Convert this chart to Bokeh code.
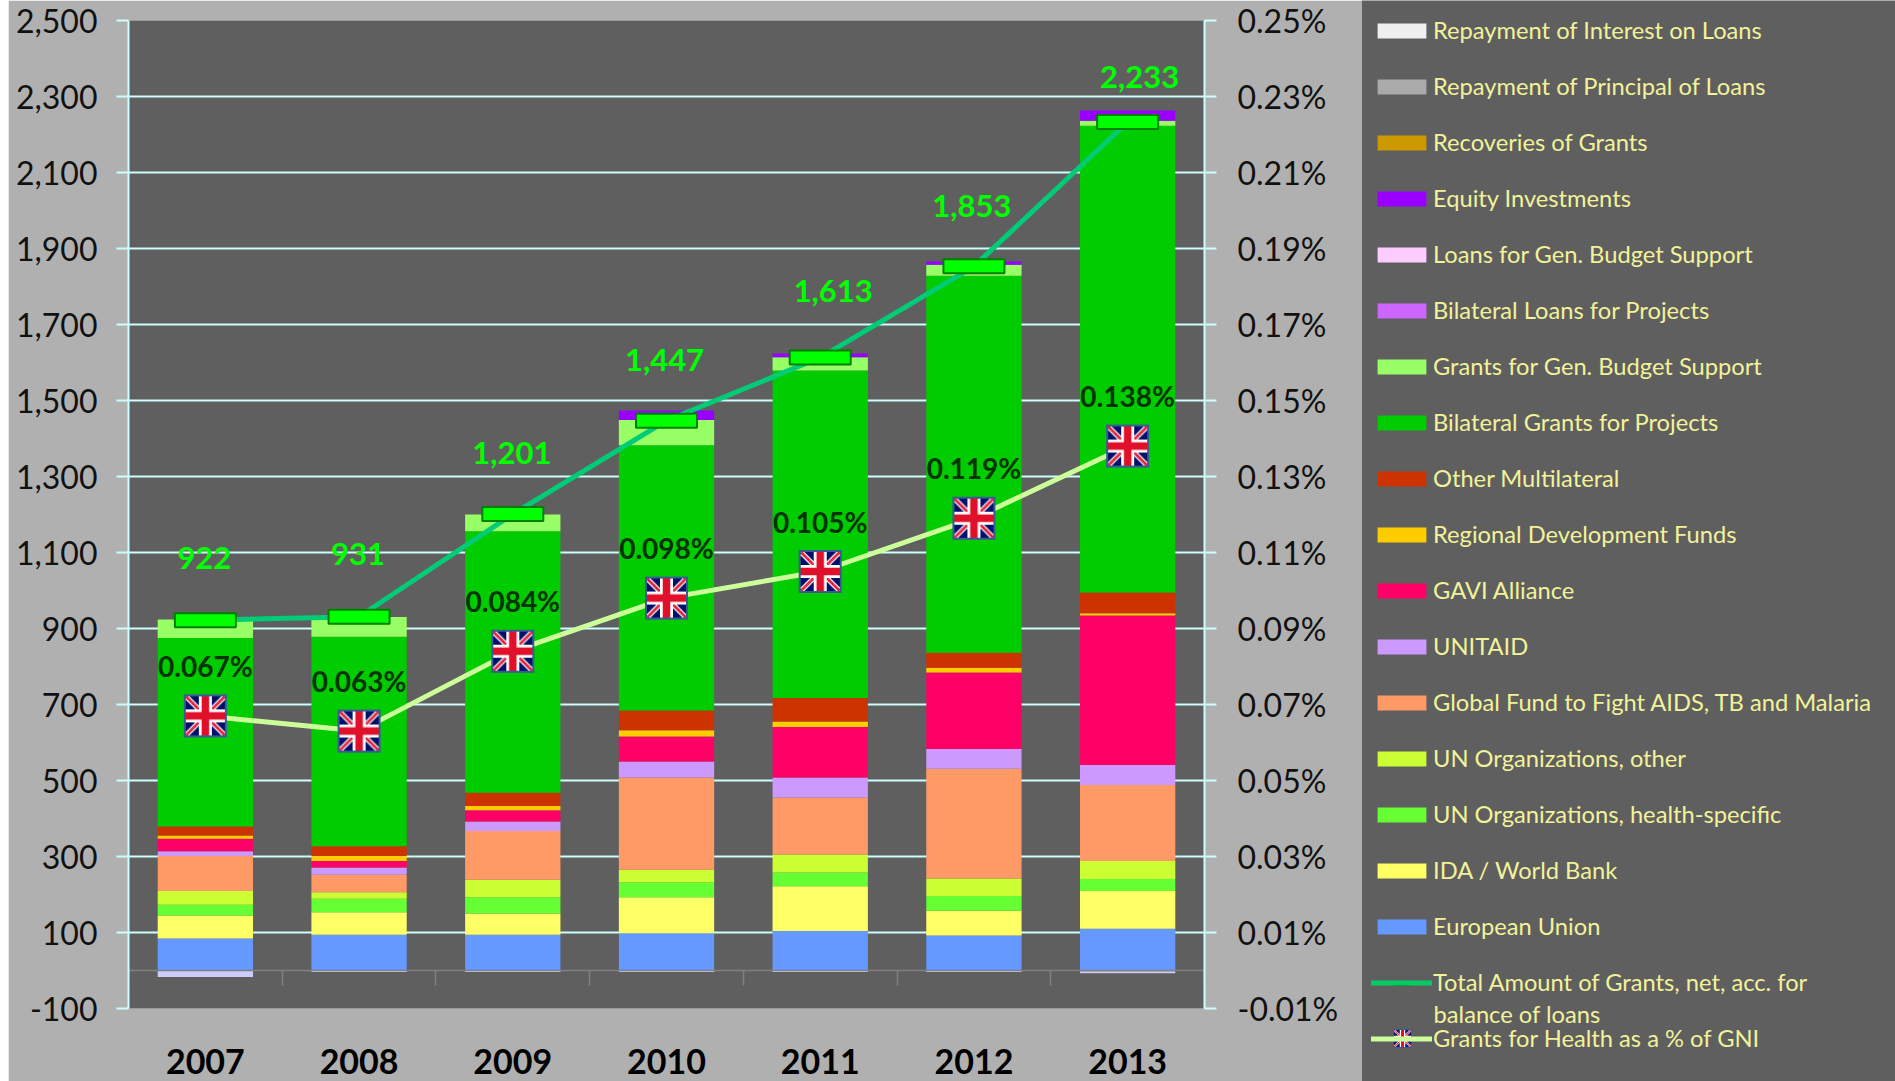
import numpy as np
from bokeh.embed import file_html
from bokeh.layouts import row
from bokeh.models import (ColumnDataSource, FixedTicker, Legend, LegendItem, LinearAxis,
                          NumeralTickFormatter, PrintfTickFormatter, Range1d)
from bokeh.plotting import figure
from bokeh.resources import INLINE
from bokeh.core.properties import value

years = ["2007", "2008", "2009", "2010", "2011", "2012", "2013"]

european_union = [84, 94, 94, 98, 104, 92, 110]
ida_world_bank = [61, 59, 56, 95, 118, 65, 99]
un_health = [28, 36, 43, 39, 36, 39, 32]
un_other = [36, 17, 46, 33, 47, 46, 47]
global_fund = [92, 46, 128, 243, 150, 289, 200]
unitaid = [13, 19, 25, 42, 53, 52, 53]
gavi = [33, 17, 30, 66, 133, 201, 393]
regional_funds = [8, 13, 11, 16, 14, 13, 6]
other_multilateral = [24, 26, 35, 52, 62, 39, 55]
bilateral_grants = [496, 551, 688, 698, 862, 992, 1228]
grants_budget_support = [49, 52, 44, 67, 35, 29, 13]
bilateral_loans = [0, 0, 0, 0, 0, 0, 0]
loans_budget_support = [0, 0, 0, 0, 0, 0, 0]
equity_investments = [0, 0, 0, 25, 10, 9, 27]

recoveries_of_grants = [0, 0, 0, 0, 0, 0, -2]
repayment_principal = [-17, -4, -4, -4, -4, -4, -5]
repayment_interest = [0, 0, 0, 0, 0, 0, 0]

total_grants = [922, 931, 1201, 1447, 1613, 1853, 2233]
gni_share = [0.067, 0.063, 0.084, 0.098, 0.105, 0.119, 0.138]
gni_labels = ["0.067%", "0.063%", "0.084%", "0.098%", "0.105%", "0.119%", "0.138%"]
total_labels = ["922", "931", "1,201", "1,447", "1,613", "1,853", "2,233"]

positive_series = [
    ("European Union", european_union, "#6699ff"),
    ("IDA / World Bank", ida_world_bank, "#ffff66"),
    ("UN Organizations, health-specific", un_health, "#66ff33"),
    ("UN Organizations, other", un_other, "#ccff33"),
    ("Global Fund to Fight AIDS, TB and Malaria", global_fund, "#ff9966"),
    ("UNITAID", unitaid, "#cc99ff"),
    ("GAVI Alliance", gavi, "#ff0066"),
    ("Regional Development Funds", regional_funds, "#ffcc00"),
    ("Other Multilateral", other_multilateral, "#cc3300"),
    ("Bilateral Grants for Projects", bilateral_grants, "#00cc00"),
    ("Grants for Gen. Budget Support", grants_budget_support, "#99ff66"),
    ("Bilateral Loans for Projects", bilateral_loans, "#cc66ff"),
    ("Loans for Gen. Budget Support", loans_budget_support, "#ffccff"),
    ("Equity Investments", equity_investments, "#9900ff"),
]
negative_series = [
    ("Recoveries of Grants", recoveries_of_grants, "#cc9900"),
    ("Repayment of Principal of Loans", repayment_principal, "#ccccff"),
    ("Repayment of Interest on Loans", repayment_interest, "#f0f0f0"),
]
legend_swatches = {"Repayment of Principal of Loans": "#aaaaaa"}

BG = "#b0b0b0"
PANEL = "#5f5f5f"
GRID = "#ccffff"
FONT = "Lato"

xs = np.arange(7) + 0.5


def flag_image(size=43, border=2, ss=4):
    n = size * ss
    c = (np.arange(n) + 0.5) / n * 2 - 1
    u, v = np.meshgrid(c, c)
    rgb = np.zeros((n, n, 3))
    rgb[:] = (0, 16, 107)
    d = np.abs(np.abs(u) - np.abs(v))
    rgb[d < 0.17] = (255, 255, 255)
    rgb[(u * v > 0) & ((u - v) > 0) & ((u - v) < 0.09)] = (224, 16, 42)
    rgb[(u * v < 0) & ((u + v) > 0) & ((u + v) < 0.09)] = (224, 16, 42)
    rgb[(u * v > 0) & ((v - u) > 0) & ((v - u) < 0.09)] = (224, 16, 42)
    rgb[(u * v < 0) & ((-u - v) > 0) & ((-u - v) < 0.09)] = (224, 16, 42)
    rgb[(np.abs(u) < 0.3) | (np.abs(v) < 0.3)] = (255, 255, 255)
    rgb[(np.abs(u) < 0.17) | (np.abs(v) < 0.17)] = (224, 16, 42)
    m = 1 - 2 * border / size
    rgb[(np.abs(u) > m) | (np.abs(v) > m)] = (58, 90, 150)
    small = rgb.reshape(size, ss, size, ss, 3).mean(axis=(1, 3)).astype(np.uint32)
    return (255 << 24) | (small[..., 2] << 16) | (small[..., 1] << 8) | small[..., 0]


p = figure(frame_width=1076, frame_height=988, width=1353, height=1081,
           x_range=Range1d(0, 7), y_range=Range1d(-100, 2500),
           output_backend="svg", toolbar_location=None,
           background_fill_color=PANEL, border_fill_color=BG, outline_line_color=None,
           min_border_left=120, min_border_right=157, min_border_top=20, min_border_bottom=73,
           x_axis_location=None, y_axis_location=None, frame_align=False)
p.extra_y_ranges = {"share": Range1d(-0.01, 0.25)}

y_ticks = list(range(-100, 2501, 200))
p.xgrid.visible = False

left = LinearAxis(ticker=FixedTicker(ticks=y_ticks), formatter=NumeralTickFormatter(format="0,0"))
right = LinearAxis(y_range_name="share", ticker=FixedTicker(ticks=[round(-0.01 + 0.02 * i, 2) for i in range(14)]),
                   formatter=PrintfTickFormatter(format="%.2f%%"))
for ax, standoff in ((left, 19), (right, 21)):
    ax.axis_line_color = GRID
    ax.axis_line_width = 2
    ax.major_tick_line_color = GRID
    ax.major_tick_line_width = 2
    ax.major_tick_out = 12
    ax.major_tick_in = 0
    ax.minor_tick_line_color = None
    ax.major_label_text_font = FONT
    ax.major_label_text_font_size = "32px"
    ax.major_label_text_color = "#111111"
    ax.major_label_standoff = standoff
    p.add_layout(ax, "left" if ax is left else "right")

bottom = LinearAxis(ticker=FixedTicker(ticks=list(xs)),
                    major_label_overrides={float(x): y for x, y in zip(xs, years)})
bottom.axis_line_color = None
bottom.major_tick_line_color = None
bottom.minor_tick_line_color = None
bottom.major_label_text_font = FONT
bottom.major_label_text_font_style = "bold"
bottom.major_label_text_font_size = "34px"
bottom.major_label_text_color = "#000000"
bottom.major_label_standoff = 34
p.add_layout(bottom, "below")

p.ygrid[0].ticker = FixedTicker(ticks=y_ticks)
p.ygrid[0].grid_line_color = GRID
p.ygrid[0].grid_line_width = 2

zero_axis = LinearAxis(ticker=FixedTicker(ticks=list(range(8))), fixed_location=0)
zero_axis.axis_line_color = "#808080"
zero_axis.axis_line_width = 1.5
zero_axis.major_tick_line_color = "#808080"
zero_axis.major_tick_line_width = 1.5
zero_axis.major_tick_out = 15
zero_axis.major_tick_in = 0
zero_axis.minor_tick_line_color = None
zero_axis.major_label_text_color = None
p.add_layout(zero_axis, "below")

BAR_W = 0.62
pos = {"x": xs, **{n: v for n, v, _ in positive_series}}
p.vbar_stack([n for n, _, _ in positive_series], x="x", width=BAR_W, source=ColumnDataSource(pos),
             color=[c for _, _, c in positive_series], line_width=0)
neg = {"x": xs, **{n: v for n, v, _ in negative_series}}
p.vbar_stack([n for n, _, _ in negative_series], x="x", width=BAR_W, source=ColumnDataSource(neg),
             color=[c for _, _, c in negative_series], line_width=0)

p.line(xs, total_grants, line_color="#00cc77", line_width=5)
p.line(xs, gni_share, y_range_name="share", line_color="#ccff99", line_width=5)
p.rect(xs, total_grants, width=61, height=14, width_units="screen", height_units="screen",
       fill_color="#00ff00", line_color="#008000", line_width=2)

flag = flag_image()
p.image_rgba(image=[flag] * 7, x=list(xs), y=gni_share, dw=[43] * 7, dh=[43] * 7,
             dw_units="screen", dh_units="screen", anchor="center", y_range_name="share")

p.text(xs, gni_share, text=gni_labels, y_range_name="share", y_offset=-50,
       text_font=value(FONT), text_font_size="28px", text_font_style="bold",
       text_color="#003300", text_align="center", text_baseline="middle")

total_dx = [-1, -1, -1, -2, 13, -2, 12]
total_dy = [-62, -63, -61, -61, -67, -60, -45]
p.text(xs, total_grants, text=total_labels, x_offset=total_dx, y_offset=total_dy,
       text_font=value(FONT), text_font_size="31px", text_font_style="bold",
       text_color="#00ff00", text_align="center", text_baseline="middle")

# legend panel, in its own figure with a pixel-sized frame (origin at the panel's top-left)
LW, LH = 534, 1081
q = figure(width=LW, height=LH, x_range=Range1d(0, LW), y_range=Range1d(LH, 0),
           output_backend="svg", toolbar_location=None, x_axis_location=None, y_axis_location=None,
           background_fill_color=PANEL, border_fill_color=PANEL, outline_line_color=None,
           min_border=0, frame_align=False)
q.grid.visible = False

all_named = {n: c for n, _, c in positive_series + negative_series}
all_named.update(legend_swatches)
legend_order = ["Repayment of Interest on Loans", "Repayment of Principal of Loans", "Recoveries of Grants",
                "Equity Investments", "Loans for Gen. Budget Support", "Bilateral Loans for Projects",
                "Grants for Gen. Budget Support", "Bilateral Grants for Projects", "Other Multilateral",
                "Regional Development Funds", "GAVI Alliance", "UNITAID",
                "Global Fund to Fight AIDS, TB and Malaria", "UN Organizations, other",
                "UN Organizations, health-specific", "IDA / World Bank", "European Union"]
items = []
off = [-100], [-100]
for name in legend_order:
    r = q.rect(x=off[0], y=off[1], width=1, height=1, fill_color=all_named[name], line_color=None)
    items.append(LegendItem(label=name, renderers=[r]))
r_total = q.line(x=off[0], y=off[1], line_color="#00cc66", line_width=5, line_cap="round")
r_share = q.line(x=off[0], y=off[1], line_color="#ccff99", line_width=5, line_cap="round")
items.append(LegendItem(label="Total Amount of Grants, net, acc. for", renderers=[r_total]))
items.append(LegendItem(label="Grants for Health as a % of GNI", renderers=[r_share]))

legend = Legend(items=items, location=(10, 29), orientation="vertical",
                background_fill_alpha=0, border_line_color=None,
                padding=0, margin=0, spacing=28, glyph_width=61, glyph_height=19,
                label_standoff=1, label_text_font=FONT, label_text_font_size="23.7px",
                label_text_color="#f2f29a", label_height=26)
q.add_layout(legend, "center")
q.text([72], [1013], text=["balance of loans"], text_font=value(FONT), text_font_size="23.7px",
       text_color="#f2f29a", text_baseline="middle")
q.rect([41], [983], width=16, height=4, fill_color="#00ff00", line_color="#008000", line_width=1,
       level="overlay")
q.image_rgba(image=[flag_image(size=19, border=1)], x=[41], y=[1038], dw=[19], dh=[19],
             dw_units="screen", dh_units="screen", anchor="center", level="overlay")

page = row(p, q, spacing=0, margin=(0, 0, 0, 8))
open("out.html", "w").write(file_html(page, INLINE))
